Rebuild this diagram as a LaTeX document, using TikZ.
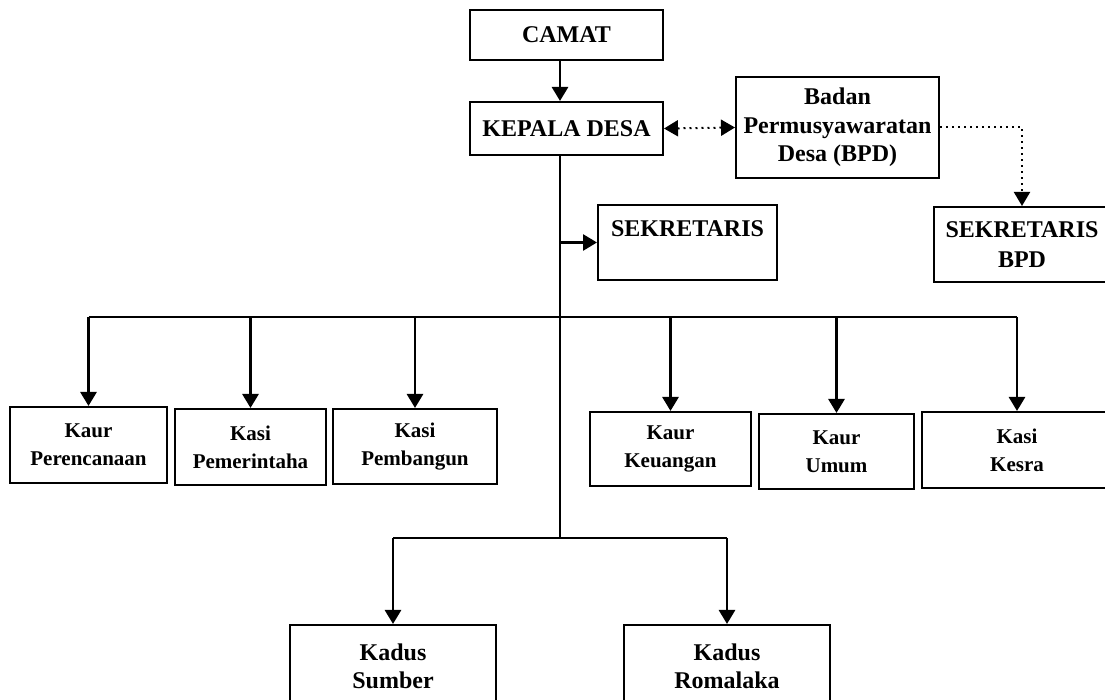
\documentclass[tikz,border=0pt]{standalone}
\usepackage{fontspec}
\setmainfont{Liberation Serif}
\usetikzlibrary{arrows.meta}
\begin{document}
\begin{tikzpicture}[x=0.5pt, y=-0.5pt, >={Triangle[width=8pt,length=7pt]},
		kotak/.style={draw, line width=1pt, align=center, inner sep=0pt, font=\bfseries\fontsize{12}{14.4}\selectfont},
		kecil/.style={kotak, font=\bfseries\fontsize{10.5}{14}\selectfont},
		garis/.style={line width=1.3pt},
		titik/.style={line width=1pt, dotted}]
		\useasboundingbox (0,0) rectangle (1105,700);
		\coordinate (spine) at (560,0);
		\coordinate (bar) at (560,317);
		\coordinate (kadusbar) at (560,538);
		
		% 上层
		\node[kotak, minimum width=96.5pt, minimum height=25pt] (camat) at (566.5,35) {CAMAT};
		\node[kotak, minimum width=96.5pt, minimum height=26.5pt] (kades) at (566.5,128.5) {KEPALA DESA};
		\node[kotak, minimum width=101.5pt, minimum height=50.5pt, font=\bfseries\fontsize{12}{14.2}\selectfont] (bpd) at (837.5,127.5) {Badan\\Permusyawaratan\\Desa (BPD)};
		\node[kotak, minimum width=88pt, minimum height=37.5pt, font=\bfseries\fontsize{12}{15}\selectfont] (sekbpd) at (1022,244.5) {SEKRETARIS\\BPD};
		\node[kotak, minimum width=89.5pt, minimum height=37.5pt] (sekr) at (687.5,242.5) {SEKRETARIS\\~};
		
		% 中层
		\node[kecil, minimum width=78.5pt, minimum height=38pt] (kaur1) at (88.5,445) {Kaur\\Perencanaan};
		\node[kecil, minimum width=75.5pt, minimum height=38pt] (kasi1) at (250.5,447) {Kasi\\Pemerintaha};
		\node[kecil, minimum width=82pt, minimum height=37.5pt] (kasi2) at (415,446.5) {Kasi\\Pembangun};
		\node[kecil, minimum width=80.5pt, minimum height=37pt] (kaur2) at (670.5,449) {Kaur\\Keuangan};
		\node[kecil, minimum width=77.5pt, minimum height=37.5pt] (kaur3) at (836.5,451.5) {Kaur\\Umum};
		\node[kecil, minimum width=95pt, minimum height=38pt] (kasi3) at (1017,450) {Kasi\\Kesra};
		
		% 下层
		\node[kotak, minimum width=103pt, minimum height=41.5pt, font=\bfseries\fontsize{12}{14}\selectfont] (kadus1) at (393,666.5) {Kadus\\Sumber};
		\node[kotak, minimum width=103pt, minimum height=41.5pt, font=\bfseries\fontsize{12}{14}\selectfont] (kadus2) at (727,666.5) {Kadus\\Romalaka};
		
		% 连线
		\draw[garis, ->] (camat.south -| spine) -- (kades.north -| spine);
		\draw[titik, <->] (kades.east) -- (bpd.west);
		\draw[titik, ->] (bpd.east) -| (sekbpd.north);
		\draw[garis] (kades.south -| spine) -- (spine |- kadusbar);
		\draw[garis, ->] (spine |- sekr.west) -- (sekr.west);
		
		% 分支
		\draw[garis] (bar -| kaur1.north) -- (bar -| kasi3.north);
		\foreach \n in {kaur1,kasi1,kasi2,kaur2,kaur3,kasi3}
			\draw[garis, ->] (bar -| \n.north) -- (\n.north);
		\draw[garis] (kadusbar -| kadus1.north) -- (kadusbar -| kadus2.north);
		\foreach \n in {kadus1,kadus2}
			\draw[garis, ->] (kadusbar -| \n.north) -- (\n.north);
	\end{tikzpicture}
\end{document}
